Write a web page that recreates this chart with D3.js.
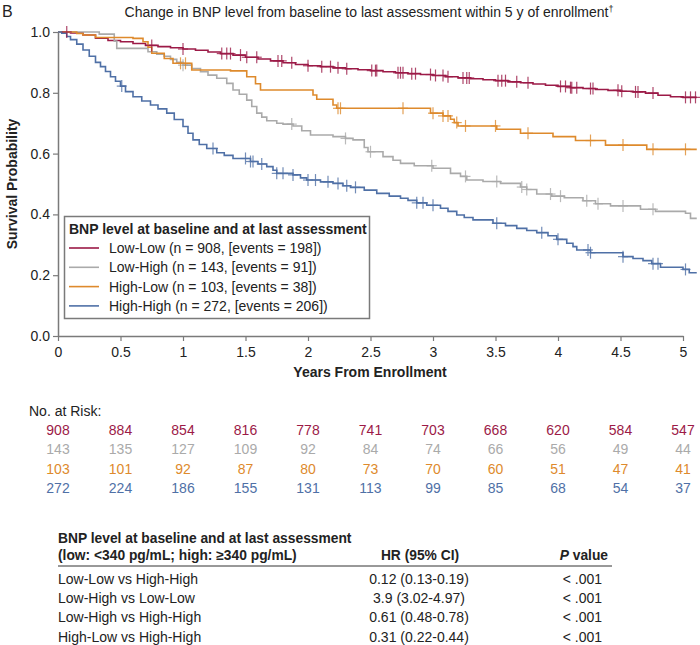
<!DOCTYPE html>
<html><head><meta charset="utf-8">
<script src="https://cdn.jsdelivr.net/npm/d3@7"></script>
<style>body{margin:0;background:#fff}svg{display:block;font-family:"Liberation Sans",Arial,Helvetica,sans-serif}</style>
</head><body><svg id="c" width="700" height="645"></svg>
<script>
const groups = ["Low-Low", "Low-High", "High-Low", "High-High"];
const groupLabels = ["Low-Low (n = 908, [events = 198])","Low-High (n = 143, [events = 91])","High-Low (n = 103, [events = 38])","High-High (n = 272, [events = 206])"];
const colors = ["#9c1a47", "#aaaaaa", "#de8a2c", "#4f70a6"];

const lowLow = [[0,1],[0.1,0.997],[0.2,0.99],[0.3,0.98],[0.4,0.972],[0.5,0.968],[0.6,0.962],[0.7,0.956],[0.8,0.952],[0.9,0.948],[1.0,0.944],[1.1,0.94],[1.2,0.934],[1.3,0.929],[1.4,0.924],[1.5,0.917],[1.6,0.911],[1.7,0.905],[1.8,0.899],[1.9,0.893],[2.0,0.889],[2.1,0.886],[2.2,0.882],[2.3,0.879],[2.4,0.876],[2.5,0.873],[2.6,0.869],[2.7,0.866],[2.8,0.863],[2.9,0.86],[3.0,0.857],[3.1,0.853],[3.2,0.849],[3.3,0.846],[3.4,0.843],[3.5,0.84],[3.6,0.836],[3.7,0.833],[3.8,0.829],[3.9,0.825],[4.0,0.821],[4.1,0.817],[4.2,0.814],[4.3,0.811],[4.4,0.808],[4.5,0.805],[4.6,0.803],[4.7,0.799],[4.8,0.792],[4.9,0.787],[5.0,0.785],[5.11,0.785]];
const lowHigh = [[0,1],[0.3,1],[0.33,0.993],[0.45,0.97],[0.47,0.946],[0.68,0.946],[0.72,0.935],[0.79,0.927],[0.85,0.92],[0.9,0.91],[0.95,0.9],[1.0,0.891],[1.07,0.88],[1.14,0.869],[1.2,0.858],[1.27,0.848],[1.35,0.831],[1.4,0.809],[1.45,0.795],[1.51,0.776],[1.55,0.755],[1.59,0.733],[1.63,0.72],[1.67,0.708],[1.75,0.7],[1.8,0.697],[1.88,0.691],[1.95,0.675],[2.02,0.661],[2.2,0.656],[2.3,0.65],[2.36,0.645],[2.45,0.62],[2.48,0.606],[2.6,0.59],[2.68,0.578],[2.74,0.568],[2.85,0.56],[3.0,0.552],[3.14,0.535],[3.22,0.525],[3.27,0.513],[3.4,0.508],[3.54,0.502],[3.7,0.49],[3.75,0.482],[3.83,0.467],[3.95,0.46],[4.05,0.455],[4.2,0.445],[4.3,0.435],[4.42,0.428],[4.66,0.417],[4.78,0.41],[5.02,0.404],[5.06,0.387],[5.11,0.387]];
const highLow = [[0,1],[0.15,0.995],[0.2,0.99],[0.3,0.982],[0.6,0.979],[0.68,0.968],[0.72,0.95],[0.75,0.93],[0.85,0.913],[0.92,0.897],[1.07,0.875],[1.38,0.872],[1.51,0.853],[1.58,0.83],[1.62,0.809],[2.04,0.793],[2.07,0.779],[2.2,0.76],[2.23,0.749],[2.95,0.749],[2.98,0.733],[3.08,0.724],[3.14,0.713],[3.17,0.702],[3.2,0.691],[3.51,0.68],[3.7,0.667],[3.96,0.656],[4.14,0.643],[4.38,0.628],[4.71,0.614],[5.11,0.614]];
const highHigh = [[0,1],[0.03,0.996],[0.07,0.985],[0.1,0.975],[0.15,0.96],[0.2,0.941],[0.25,0.92],[0.3,0.9],[0.34,0.886],[0.38,0.87],[0.42,0.853],[0.46,0.838],[0.5,0.822],[0.54,0.804],[0.6,0.787],[0.67,0.773],[0.74,0.76],[0.8,0.747],[0.87,0.733],[0.93,0.712],[1.0,0.689],[1.04,0.667],[1.08,0.645],[1.13,0.63],[1.19,0.617],[1.27,0.603],[1.33,0.594],[1.4,0.584],[1.54,0.574],[1.6,0.566],[1.67,0.557],[1.72,0.545],[1.75,0.535],[1.88,0.53],[1.94,0.52],[1.99,0.513],[2.1,0.507],[2.2,0.502],[2.28,0.494],[2.34,0.489],[2.45,0.48],[2.55,0.469],[2.65,0.46],[2.74,0.453],[2.8,0.446],[2.87,0.438],[2.95,0.43],[3.06,0.42],[3.12,0.41],[3.19,0.398],[3.25,0.39],[3.32,0.382],[3.48,0.371],[3.58,0.363],[3.67,0.354],[3.75,0.347],[3.83,0.34],[3.92,0.33],[3.99,0.318],[4.07,0.305],[4.12,0.294],[4.15,0.283],[4.26,0.274],[4.52,0.261],[4.6,0.255],[4.68,0.248],[4.75,0.238],[4.82,0.226],[5.0,0.219],[5.05,0.208],[5.11,0.208]];

const censLowLow = [0.07,0.75,1.0,1.31,1.35,1.38,1.46,1.51,1.59,1.76,1.79,1.87,2.0,2.11,2.18,2.24,2.31,2.51,2.54,2.55,2.72,2.74,2.76,2.83,2.86,2.98,3.02,3.08,3.12,3.24,3.27,3.29,3.52,3.55,3.58,3.67,3.76,4.02,4.06,4.1,4.11,4.15,4.26,4.28,4.48,4.51,4.62,4.64,4.76,5.02,5.06,5.1];
const censLowHigh = [1.0,1.87,2.3,2.5,2.99,3.26,3.51,3.71,3.75,3.94,4.02,4.23,4.32,4.52,4.76];
const censHighLow = [0.98,1.02,2.24,2.26,2.76,3.0,3.08,3.12,3.19,3.26,3.5,3.76,4.26,4.52,4.76,5.02];
const censHighHigh = [0.51,1.24,1.5,1.54,1.56,1.63,1.75,1.8,1.88,2.0,2.06,2.16,2.24,2.31,2.38,2.87,2.92,3.0,3.51,3.87,4.0,4.24,4.26,4.52,4.76,4.8,5.02];

const xTicks = [0,0.5,1,1.5,2,2.5,3,3.5,4,4.5,5];
const xTickLabels = ["0","0.5","1","1.5","2","2.5","3","3.5","4","4.5","5"];
const yTicks = [0,0.2,0.4,0.6,0.8,1.0];
const yTickLabels = ["0.0","0.2","0.4","0.6","0.8","1.0"];

const atRiskLowLow = [908,884,854,816,778,741,703,668,620,584,547];
const atRiskLowHigh = [143,135,127,109,92,84,74,66,56,49,44];
const atRiskHighLow = [103,101,92,87,80,73,70,60,51,47,41];
const atRiskHighHigh = [272,224,186,155,131,113,99,85,68,54,37];

const tableHeader = ["BNP level at baseline and at last assessment","(low: <340 pg/mL; high: \u2265340 pg/mL)"];
const tableComparisons = ["Low-Low vs High-High","Low-High vs Low-Low","Low-High vs High-High","High-Low vs High-High"];
const tableHR = ["0.12 (0.13-0.19)","3.9 (3.02-4.97)","0.61 (0.48-0.78)","0.31 (0.22-0.44)"];
const tableP = ["< .001","< .001","< .001","< .001"];

const curves = [lowLow, lowHigh, highLow, highHigh];
const censors = [censLowLow, censLowHigh, censHighLow, censHighHigh];
const atRisk = [atRiskLowLow, atRiskLowHigh, atRiskHighLow, atRiskHighHigh];

const svg = d3.select("#c");
const x = d3.scaleLinear().domain([0,5]).range([58,683]);
const y = d3.scaleLinear().domain([0,1]).range([336,32]);
const axisColor = "#7a7a7a";
const txt = "#222";
const fs = 14;

// title
svg.append("text").attr("x",2).attr("y",17).attr("font-size",16).attr("fill",txt).text("B");
const t = svg.append("text").attr("x",369).attr("y",17).attr("text-anchor","middle").attr("font-size",fs).attr("fill",txt);
t.append("tspan").text("Change in BNP level from baseline to last assessment within 5 y of enrollment");
t.append("tspan").attr("dy",-5).attr("font-size",9).text("\u2020");

// axes
const xa = svg.append("g").attr("transform","translate(0,336)")
  .call(d3.axisBottom(x).tickValues(xTicks).tickFormat((d,i)=>xTickLabels[i]).tickSize(5).tickSizeOuter(0));
const ya = svg.append("g").attr("transform","translate(58,0)")
  .call(d3.axisLeft(y).tickValues(yTicks).tickFormat((d,i)=>yTickLabels[i]).tickSize(5).tickSizeOuter(0));
[xa,ya].forEach(g=>{
  g.select(".domain").attr("stroke",axisColor).attr("stroke-width",1.5);
  g.selectAll(".tick line").attr("stroke",axisColor).attr("stroke-width",1.2);
  g.selectAll(".tick text").attr("font-size",fs).attr("fill",txt).attr("font-family","Liberation Sans, Arial, sans-serif");
});
xa.selectAll(".tick text").attr("dy","0.9em");
svg.append("text").attr("x",370).attr("y",377).attr("text-anchor","middle").attr("font-size",fs).attr("font-weight","bold").attr("fill",txt).text("Years From Enrollment");
svg.append("text").attr("transform","translate(17,184) rotate(-90)").attr("text-anchor","middle").attr("font-size",fs).attr("font-weight","bold").attr("fill",txt).text("Survival Probability");

// curves
const line = d3.line().x(d=>x(d[0])).y(d=>y(d[1])).curve(d3.curveStepAfter);
const bis = d3.bisector(d=>d[0]).right;
curves.forEach((c,i)=>{
  svg.append("path").datum(c).attr("d",line).attr("fill","none").attr("stroke",colors[i]).attr("stroke-width",1.6);
});
censors.forEach((cs,i)=>{
  const c = curves[i];
  const g = svg.append("g").attr("stroke",colors[i]).attr("stroke-width",1.2).attr("opacity",0.8);
  cs.forEach(tm=>{
    const s = c[Math.max(0,bis(c,tm)-1)][1];
    const px = x(tm), py = y(s);
    g.append("line").attr("x1",px).attr("x2",px).attr("y1",py-6).attr("y2",py+6);
    g.append("line").attr("x1",px-5).attr("x2",px+5).attr("y1",py).attr("y2",py);
  });
});

// legend
const lg = svg.append("g");
lg.append("rect").attr("x",64.5).attr("y",216.5).attr("width",305).attr("height",102).attr("fill","#fff").attr("stroke",axisColor).attr("stroke-width",1.5);
lg.append("text").attr("x",69).attr("y",234).attr("font-size",fs).attr("font-weight","bold").attr("fill",txt).text("BNP level at baseline and at last assessment");
groupLabels.forEach((lab,i)=>{
  const yy = 248 + i*19.3;
  lg.append("line").attr("x1",69).attr("x2",99).attr("y1",yy).attr("y2",yy).attr("stroke",colors[i]).attr("stroke-width",1.6);
  lg.append("text").attr("x",109).attr("y",yy+5).attr("font-size",fs).attr("fill",txt).text(lab);
});

// number at risk
svg.append("text").attr("x",29).attr("y",415.5).attr("font-size",fs).attr("fill",txt).text("No. at Risk:");
atRisk.forEach((row,i)=>{
  svg.append("g").selectAll("text").data(row).join("text")
    .attr("x",(d,j)=>x(xTicks[j])).attr("y",435+i*19.3).attr("text-anchor","middle")
    .attr("font-size",fs).attr("fill",colors[i]).text(d=>d);
});

// table
const hfs = 13.8;
svg.append("text").attr("x",58).attr("y",543).attr("font-size",hfs).attr("font-weight","bold").attr("fill",txt).text(tableHeader[0]);
svg.append("text").attr("x",58).attr("y",560).attr("font-size",hfs).attr("font-weight","bold").attr("fill",txt).text(tableHeader[1]);
svg.append("text").attr("x",420).attr("y",560).attr("text-anchor","middle").attr("font-size",hfs).attr("font-weight","bold").attr("fill",txt).text("HR (95% CI)");
const pv = svg.append("text").attr("x",608).attr("y",560).attr("text-anchor","end").attr("font-size",hfs).attr("font-weight","bold").attr("fill",txt);
pv.append("tspan").attr("font-style","italic").text("P");
pv.append("tspan").text(" value");
svg.append("line").attr("x1",58).attr("x2",612).attr("y1",566).attr("y2",566).attr("stroke","#333").attr("stroke-width",1);
tableComparisons.forEach((c,i)=>{
  const yy = 584 + i*19.2;
  svg.append("text").attr("x",58).attr("y",yy).attr("font-size",fs).attr("fill",txt).text(c);
  svg.append("text").attr("x",419).attr("y",yy).attr("text-anchor","middle").attr("font-size",fs).attr("fill",txt).text(tableHR[i]);
  svg.append("text").attr("x",602).attr("y",yy).attr("text-anchor","end").attr("font-size",fs).attr("fill",txt).text(tableP[i]);
});
</script></body></html>
